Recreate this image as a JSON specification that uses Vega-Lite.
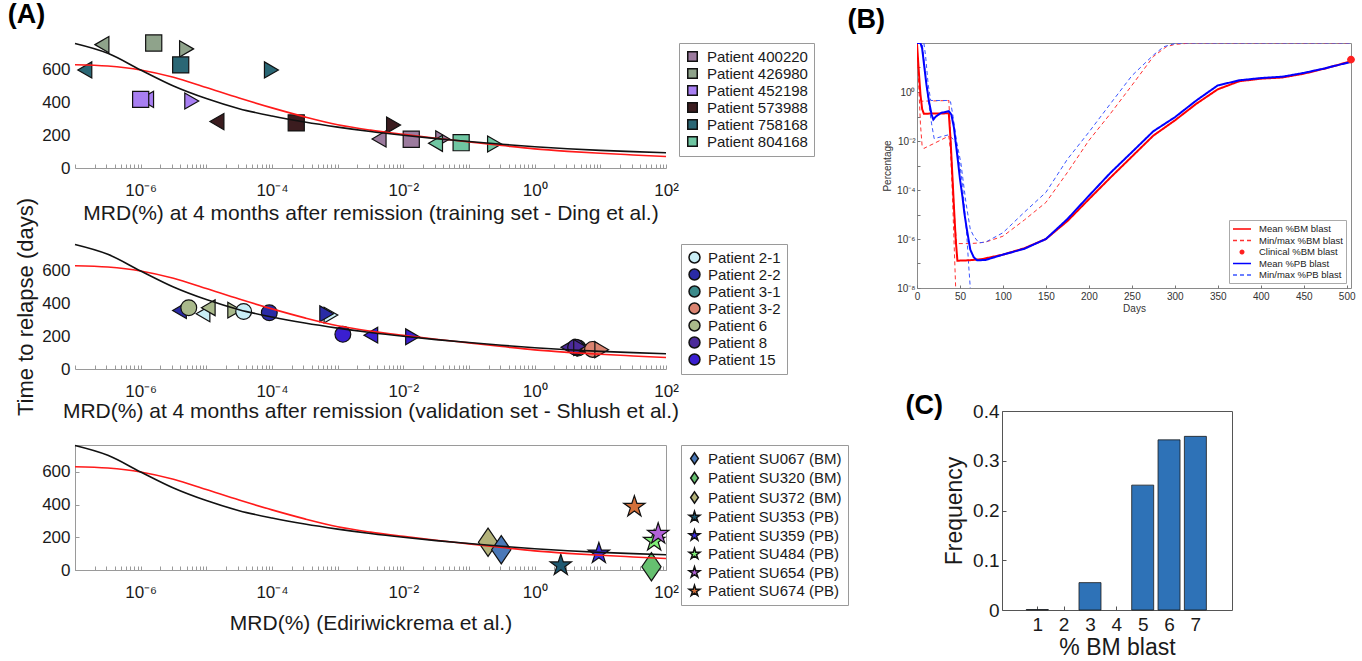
{
  "$schema": "https://vega.github.io/schema/vega-lite/v6.json",
  "background": "white",
  "padding": {"left": 7, "top": 0, "right": 4, "bottom": 2},
  "config": {
    "font": "Liberation Sans",
    "view": {"stroke": null},
    "axis": {"grid": false, "domainColor": "#9a9a9a", "tickColor": "#9a9a9a", "labelColor": "#1a1a1a", "titleColor": "#1a1a1a", "titleFontWeight": "normal", "labelFont": "Liberation Sans", "titleFont": "Liberation Sans"},
    "legend": {"labelFont": "Liberation Sans", "labelColor": "#1a1a1a"},
    "title": {"font": "Liberation Sans", "fontWeight": "bold", "fontSize": 27, "anchor": "start", "color": "#000", "offset": 4}
  },
  "datasets": {
    "curves": [
      {"mrd": 1e-7, "days": 632, "model": "red"}, {"mrd": 3.16e-7, "days": 624, "model": "red"}, {"mrd": 1e-6, "days": 600, "model": "red"}, {"mrd": 3.16e-6, "days": 555, "model": "red"}, {"mrd": 1e-5, "days": 492, "model": "red"}, {"mrd": 3.16e-5, "days": 428, "model": "red"}, {"mrd": 1e-4, "days": 368, "model": "red"}, {"mrd": 3.16e-4, "days": 313, "model": "red"}, {"mrd": 0.001, "days": 265, "model": "red"}, {"mrd": 0.00316, "days": 232, "model": "red"}, {"mrd": 0.01, "days": 206, "model": "red"}, {"mrd": 0.0316, "days": 182, "model": "red"}, {"mrd": 0.1, "days": 160, "model": "red"}, {"mrd": 0.316, "days": 138, "model": "red"}, {"mrd": 1, "days": 117, "model": "red"}, {"mrd": 3.16, "days": 102, "model": "red"}, {"mrd": 10, "days": 90, "model": "red"}, {"mrd": 31.6, "days": 80, "model": "red"}, {"mrd": 100, "days": 70, "model": "red"},
      {"mrd": 1e-7, "days": 762, "model": "black"}, {"mrd": 3.16e-7, "days": 702, "model": "black"}, {"mrd": 1e-6, "days": 600, "model": "black"}, {"mrd": 3.16e-6, "days": 502, "model": "black"}, {"mrd": 1e-5, "days": 425, "model": "black"}, {"mrd": 3.16e-5, "days": 363, "model": "black"}, {"mrd": 1e-4, "days": 318, "model": "black"}, {"mrd": 3.16e-4, "days": 281, "model": "black"}, {"mrd": 0.001, "days": 250, "model": "black"}, {"mrd": 0.00316, "days": 223, "model": "black"}, {"mrd": 0.01, "days": 200, "model": "black"}, {"mrd": 0.0316, "days": 180, "model": "black"}, {"mrd": 0.1, "days": 162, "model": "black"}, {"mrd": 0.316, "days": 145, "model": "black"}, {"mrd": 1, "days": 130, "model": "black"}, {"mrd": 3.16, "days": 118, "model": "black"}, {"mrd": 10, "days": 108, "model": "black"}, {"mrd": 31.6, "days": 100, "model": "black"}, {"mrd": 100, "days": 93, "model": "black"}
    ],
    "ding": [
      {"patient": "Patient 400220", "marker": "L", "mrd": 0.00427, "days": 178},
      {"patient": "Patient 400220", "marker": "S", "mrd": 0.0132, "days": 176},
      {"patient": "Patient 400220", "marker": "R", "mrd": 0.0398, "days": 178},
      {"patient": "Patient 426980", "marker": "L", "mrd": 2.57e-7, "days": 755},
      {"patient": "Patient 426980", "marker": "S", "mrd": 1.58e-6, "days": 765},
      {"patient": "Patient 426980", "marker": "R", "mrd": 5.0e-6, "days": 729},
      {"patient": "Patient 452198", "marker": "L", "mrd": 1.23e-6, "days": 420},
      {"patient": "Patient 452198", "marker": "S", "mrd": 1.0e-6, "days": 420},
      {"patient": "Patient 452198", "marker": "R", "mrd": 6.0e-6, "days": 410},
      {"patient": "Patient 573988", "marker": "L", "mrd": 1.45e-5, "days": 284},
      {"patient": "Patient 573988", "marker": "S", "mrd": 2.34e-4, "days": 276},
      {"patient": "Patient 573988", "marker": "R", "mrd": 0.0071, "days": 263},
      {"patient": "Patient 758168", "marker": "L", "mrd": 1.41e-7, "days": 600},
      {"patient": "Patient 758168", "marker": "S", "mrd": 4.07e-6, "days": 631},
      {"patient": "Patient 758168", "marker": "R", "mrd": 9.8e-5, "days": 600},
      {"patient": "Patient 804168", "marker": "L", "mrd": 0.0309, "days": 151},
      {"patient": "Patient 804168", "marker": "S", "mrd": 0.0759, "days": 155},
      {"patient": "Patient 804168", "marker": "R", "mrd": 0.245, "days": 147}
    ],
    "shlush": [
      {"patient": "Patient 2-1", "marker": "L", "mrd": 8.9e-6, "days": 338},
      {"patient": "Patient 2-1", "marker": "R", "mrd": 7.9e-4, "days": 330},
      {"patient": "Patient 2-2", "marker": "L", "mrd": 3.9e-6, "days": 358},
      {"patient": "Patient 2-2", "marker": "R", "mrd": 6.8e-4, "days": 338},
      {"patient": "Patient 6", "marker": "C", "mrd": 5.4e-6, "days": 375},
      {"patient": "Patient 6", "marker": "L", "mrd": 1.07e-5, "days": 375},
      {"patient": "Patient 6", "marker": "R", "mrd": 2.7e-5, "days": 360},
      {"patient": "Patient 2-1", "marker": "C", "mrd": 3.7e-5, "days": 352},
      {"patient": "Patient 2-2", "marker": "C", "mrd": 9.1e-5, "days": 344},
      {"patient": "Patient 15", "marker": "C", "mrd": 0.0012, "days": 212},
      {"patient": "Patient 15", "marker": "L", "mrd": 0.0032, "days": 207},
      {"patient": "Patient 15", "marker": "R", "mrd": 0.0138, "days": 197},
      {"patient": "Patient 3-1", "marker": "L", "mrd": 3.5, "days": 130},
      {"patient": "Patient 3-1", "marker": "C", "mrd": 4.6, "days": 128},
      {"patient": "Patient 3-1", "marker": "R", "mrd": 5.6, "days": 128},
      {"patient": "Patient 8", "marker": "L", "mrd": 3.2, "days": 133},
      {"patient": "Patient 8", "marker": "C", "mrd": 4.2, "days": 133},
      {"patient": "Patient 8", "marker": "R", "mrd": 5.0, "days": 132},
      {"patient": "Patient 3-2", "marker": "L", "mrd": 6.3, "days": 120},
      {"patient": "Patient 3-2", "marker": "C", "mrd": 7.6, "days": 120},
      {"patient": "Patient 3-2", "marker": "R", "mrd": 10.5, "days": 118}
    ],
    "ediri": [
      {"patient": "Patient SU320 (BM)", "type": "BM", "mrd": 60, "days": 20},
      {"patient": "Patient SU372 (BM)", "type": "BM", "mrd": 0.195, "days": 170},
      {"patient": "Patient SU067 (BM)", "type": "BM", "mrd": 0.31, "days": 124},
      {"patient": "Patient SU353 (PB)", "type": "PB", "mrd": 2.5, "days": 28},
      {"patient": "Patient SU359 (PB)", "type": "PB", "mrd": 9.5, "days": 101},
      {"patient": "Patient SU484 (PB)", "type": "PB", "mrd": 66, "days": 178},
      {"patient": "Patient SU654 (PB)", "type": "PB", "mrd": 76, "days": 221},
      {"patient": "Patient SU674 (PB)", "type": "PB", "mrd": 33, "days": 387}
    ],
    "sim": [
      {"day": 0, "value": 95, "series": "Mean %BM blast", "line": "mean"}, {"day": 2, "value": 8, "series": "Mean %BM blast", "line": "mean"}, {"day": 4, "value": 0.8, "series": "Mean %BM blast", "line": "mean"}, {"day": 6, "value": 0.2, "series": "Mean %BM blast", "line": "mean"}, {"day": 8, "value": 0.13, "series": "Mean %BM blast", "line": "mean"}, {"day": 37, "value": 0.135, "series": "Mean %BM blast", "line": "mean"}, {"day": 39, "value": 0.012, "series": "Mean %BM blast", "line": "mean"}, {"day": 41, "value": 0.0005, "series": "Mean %BM blast", "line": "mean"}, {"day": 43, "value": 2e-5, "series": "Mean %BM blast", "line": "mean"}, {"day": 45, "value": 1e-6, "series": "Mean %BM blast", "line": "mean"}, {"day": 47, "value": 1.3e-7, "series": "Mean %BM blast", "line": "mean"}, {"day": 60, "value": 1.35e-7, "series": "Mean %BM blast", "line": "mean"}, {"day": 75, "value": 1.5e-7, "series": "Mean %BM blast", "line": "mean"}, {"day": 100, "value": 2.3e-7, "series": "Mean %BM blast", "line": "mean"}, {"day": 125, "value": 4.2e-7, "series": "Mean %BM blast", "line": "mean"}, {"day": 150, "value": 1e-6, "series": "Mean %BM blast", "line": "mean"}, {"day": 175, "value": 5.4e-6, "series": "Mean %BM blast", "line": "mean"}, {"day": 200, "value": 4.2e-5, "series": "Mean %BM blast", "line": "mean"}, {"day": 225, "value": 0.00032, "series": "Mean %BM blast", "line": "mean"}, {"day": 250, "value": 0.0023, "series": "Mean %BM blast", "line": "mean"}, {"day": 275, "value": 0.0166, "series": "Mean %BM blast", "line": "mean"}, {"day": 300, "value": 0.069, "series": "Mean %BM blast", "line": "mean"}, {"day": 325, "value": 0.33, "series": "Mean %BM blast", "line": "mean"}, {"day": 350, "value": 1.29, "series": "Mean %BM blast", "line": "mean"}, {"day": 375, "value": 2.75, "series": "Mean %BM blast", "line": "mean"}, {"day": 400, "value": 3.5, "series": "Mean %BM blast", "line": "mean"}, {"day": 425, "value": 3.9, "series": "Mean %BM blast", "line": "mean"}, {"day": 450, "value": 5.6, "series": "Mean %BM blast", "line": "mean"}, {"day": 475, "value": 9.1, "series": "Mean %BM blast", "line": "mean"}, {"day": 505, "value": 18, "series": "Mean %BM blast", "line": "mean"},
      {"day": 0, "value": 100, "series": "Mean %PB blast", "line": "mean"}, {"day": 4, "value": 100, "series": "Mean %PB blast", "line": "mean"}, {"day": 6, "value": 60, "series": "Mean %PB blast", "line": "mean"}, {"day": 8, "value": 15, "series": "Mean %PB blast", "line": "mean"}, {"day": 11, "value": 2, "series": "Mean %PB blast", "line": "mean"}, {"day": 14, "value": 0.4, "series": "Mean %PB blast", "line": "mean"}, {"day": 17, "value": 0.12, "series": "Mean %PB blast", "line": "mean"}, {"day": 19, "value": 0.075, "series": "Mean %PB blast", "line": "mean"}, {"day": 22, "value": 0.1, "series": "Mean %PB blast", "line": "mean"}, {"day": 28, "value": 0.14, "series": "Mean %PB blast", "line": "mean"}, {"day": 37, "value": 0.165, "series": "Mean %PB blast", "line": "mean"}, {"day": 40, "value": 0.12, "series": "Mean %PB blast", "line": "mean"}, {"day": 43, "value": 0.035, "series": "Mean %PB blast", "line": "mean"}, {"day": 45, "value": 0.009, "series": "Mean %PB blast", "line": "mean"}, {"day": 48, "value": 0.0012, "series": "Mean %PB blast", "line": "mean"}, {"day": 50, "value": 0.00028, "series": "Mean %PB blast", "line": "mean"}, {"day": 53, "value": 5e-5, "series": "Mean %PB blast", "line": "mean"}, {"day": 55, "value": 1.2e-5, "series": "Mean %PB blast", "line": "mean"}, {"day": 58, "value": 2.5e-6, "series": "Mean %PB blast", "line": "mean"}, {"day": 62, "value": 3.7e-7, "series": "Mean %PB blast", "line": "mean"}, {"day": 66, "value": 1.8e-7, "series": "Mean %PB blast", "line": "mean"}, {"day": 70, "value": 1.35e-7, "series": "Mean %PB blast", "line": "mean"}, {"day": 80, "value": 1.4e-7, "series": "Mean %PB blast", "line": "mean"}, {"day": 100, "value": 2.3e-7, "series": "Mean %PB blast", "line": "mean"}, {"day": 125, "value": 4e-7, "series": "Mean %PB blast", "line": "mean"}, {"day": 150, "value": 1e-6, "series": "Mean %PB blast", "line": "mean"}, {"day": 175, "value": 6.5e-6, "series": "Mean %PB blast", "line": "mean"}, {"day": 200, "value": 5.8e-5, "series": "Mean %PB blast", "line": "mean"}, {"day": 225, "value": 0.0005, "series": "Mean %PB blast", "line": "mean"}, {"day": 250, "value": 0.0035, "series": "Mean %PB blast", "line": "mean"}, {"day": 275, "value": 0.025, "series": "Mean %PB blast", "line": "mean"}, {"day": 300, "value": 0.093, "series": "Mean %PB blast", "line": "mean"}, {"day": 325, "value": 0.45, "series": "Mean %PB blast", "line": "mean"}, {"day": 350, "value": 1.86, "series": "Mean %PB blast", "line": "mean"}, {"day": 375, "value": 3.0, "series": "Mean %PB blast", "line": "mean"}, {"day": 400, "value": 3.7, "series": "Mean %PB blast", "line": "mean"}, {"day": 425, "value": 4.2, "series": "Mean %PB blast", "line": "mean"}, {"day": 450, "value": 6.0, "series": "Mean %PB blast", "line": "mean"}, {"day": 475, "value": 9.3, "series": "Mean %PB blast", "line": "mean"}, {"day": 505, "value": 17, "series": "Mean %PB blast", "line": "mean"},
      {"day": 0, "value": 95, "series": "Min/max %BM blast", "line": "max"}, {"day": 2, "value": 5, "series": "Min/max %BM blast", "line": "max"}, {"day": 4, "value": 0.6, "series": "Min/max %BM blast", "line": "max"}, {"day": 5, "value": 0.42, "series": "Min/max %BM blast", "line": "max"}, {"day": 37, "value": 0.45, "series": "Min/max %BM blast", "line": "max"}, {"day": 38, "value": 0.1, "series": "Min/max %BM blast", "line": "max"}, {"day": 40, "value": 0.003, "series": "Min/max %BM blast", "line": "max"}, {"day": 42, "value": 0.0001, "series": "Min/max %BM blast", "line": "max"}, {"day": 44, "value": 5e-6, "series": "Min/max %BM blast", "line": "max"}, {"day": 46, "value": 6.5e-7, "series": "Min/max %BM blast", "line": "max"}, {"day": 60, "value": 6.5e-7, "series": "Min/max %BM blast", "line": "max"}, {"day": 70, "value": 6.8e-7, "series": "Min/max %BM blast", "line": "max"}, {"day": 80, "value": 7.5e-7, "series": "Min/max %BM blast", "line": "max"}, {"day": 100, "value": 1.3e-6, "series": "Min/max %BM blast", "line": "max"}, {"day": 125, "value": 6e-6, "series": "Min/max %BM blast", "line": "max"}, {"day": 150, "value": 3.1e-5, "series": "Min/max %BM blast", "line": "max"}, {"day": 175, "value": 0.00052, "series": "Min/max %BM blast", "line": "max"}, {"day": 200, "value": 0.0105, "series": "Min/max %BM blast", "line": "max"}, {"day": 225, "value": 0.13, "series": "Min/max %BM blast", "line": "max"}, {"day": 250, "value": 1.86, "series": "Min/max %BM blast", "line": "max"}, {"day": 275, "value": 28, "series": "Min/max %BM blast", "line": "max"}, {"day": 290, "value": 70, "series": "Min/max %BM blast", "line": "max"}, {"day": 300, "value": 88, "series": "Min/max %BM blast", "line": "max"}, {"day": 320, "value": 100, "series": "Min/max %BM blast", "line": "max"}, {"day": 505, "value": 100, "series": "Min/max %BM blast", "line": "max"},
      {"day": 0, "value": 95, "series": "Min/max %BM blast", "line": "min"}, {"day": 2, "value": 2, "series": "Min/max %BM blast", "line": "min"}, {"day": 4, "value": 0.05, "series": "Min/max %BM blast", "line": "min"}, {"day": 6, "value": 0.006, "series": "Min/max %BM blast", "line": "min"}, {"day": 8, "value": 0.005, "series": "Min/max %BM blast", "line": "min"}, {"day": 20, "value": 0.008, "series": "Min/max %BM blast", "line": "min"}, {"day": 37, "value": 0.016, "series": "Min/max %BM blast", "line": "min"}, {"day": 39, "value": 0.004, "series": "Min/max %BM blast", "line": "min"}, {"day": 41, "value": 0.0001, "series": "Min/max %BM blast", "line": "min"}, {"day": 43, "value": 1e-6, "series": "Min/max %BM blast", "line": "min"}, {"day": 45, "value": 1e-8, "series": "Min/max %BM blast", "line": "min"}, {"day": 46, "value": 1e-10, "series": "Min/max %BM blast", "line": "min"},
      {"day": 0, "value": 100, "series": "Min/max %PB blast", "line": "max"}, {"day": 8, "value": 100, "series": "Min/max %PB blast", "line": "max"}, {"day": 10, "value": 30, "series": "Min/max %PB blast", "line": "max"}, {"day": 13, "value": 2, "series": "Min/max %PB blast", "line": "max"}, {"day": 16, "value": 0.45, "series": "Min/max %PB blast", "line": "max"}, {"day": 37, "value": 0.45, "series": "Min/max %PB blast", "line": "max"}, {"day": 39, "value": 0.4, "series": "Min/max %PB blast", "line": "max"}, {"day": 42, "value": 0.1, "series": "Min/max %PB blast", "line": "max"}, {"day": 46, "value": 0.01, "series": "Min/max %PB blast", "line": "max"}, {"day": 51, "value": 0.0013, "series": "Min/max %PB blast", "line": "max"}, {"day": 57, "value": 3e-5, "series": "Min/max %PB blast", "line": "max"}, {"day": 62, "value": 2.5e-6, "series": "Min/max %PB blast", "line": "max"}, {"day": 66, "value": 1.3e-6, "series": "Min/max %PB blast", "line": "max"}, {"day": 72, "value": 7e-7, "series": "Min/max %PB blast", "line": "max"}, {"day": 80, "value": 7.5e-7, "series": "Min/max %PB blast", "line": "max"}, {"day": 100, "value": 1.8e-6, "series": "Min/max %PB blast", "line": "max"}, {"day": 125, "value": 1.25e-5, "series": "Min/max %PB blast", "line": "max"}, {"day": 150, "value": 8e-5, "series": "Min/max %PB blast", "line": "max"}, {"day": 175, "value": 0.0018, "series": "Min/max %PB blast", "line": "max"}, {"day": 200, "value": 0.023, "series": "Min/max %PB blast", "line": "max"}, {"day": 225, "value": 0.33, "series": "Min/max %PB blast", "line": "max"}, {"day": 250, "value": 4.6, "series": "Min/max %PB blast", "line": "max"}, {"day": 275, "value": 32, "series": "Min/max %PB blast", "line": "max"}, {"day": 287, "value": 70, "series": "Min/max %PB blast", "line": "max"}, {"day": 300, "value": 95, "series": "Min/max %PB blast", "line": "max"}, {"day": 310, "value": 100, "series": "Min/max %PB blast", "line": "max"}, {"day": 505, "value": 100, "series": "Min/max %PB blast", "line": "max"},
      {"day": 0, "value": 100, "series": "Min/max %PB blast", "line": "min"}, {"day": 6, "value": 100, "series": "Min/max %PB blast", "line": "min"}, {"day": 9, "value": 10, "series": "Min/max %PB blast", "line": "min"}, {"day": 13, "value": 0.5, "series": "Min/max %PB blast", "line": "min"}, {"day": 17, "value": 0.05, "series": "Min/max %PB blast", "line": "min"}, {"day": 20, "value": 0.0125, "series": "Min/max %PB blast", "line": "min"}, {"day": 37, "value": 0.018, "series": "Min/max %PB blast", "line": "min"}, {"day": 40, "value": 0.014, "series": "Min/max %PB blast", "line": "min"}, {"day": 45, "value": 0.009, "series": "Min/max %PB blast", "line": "min"}, {"day": 50, "value": 0.001, "series": "Min/max %PB blast", "line": "min"}, {"day": 53, "value": 0.00015, "series": "Min/max %PB blast", "line": "min"}, {"day": 56, "value": 1e-5, "series": "Min/max %PB blast", "line": "min"}, {"day": 58, "value": 1.3e-6, "series": "Min/max %PB blast", "line": "min"}, {"day": 60, "value": 1e-7, "series": "Min/max %PB blast", "line": "min"}, {"day": 62, "value": 1e-8, "series": "Min/max %PB blast", "line": "min"}, {"day": 63, "value": 1e-10, "series": "Min/max %PB blast", "line": "min"}
    ],
    "clin": [{"day": 505, "value": 21, "series": "Clinical %BM blast"}],
    "hist": [
      {"blast": 1, "freq": 0.001}, {"blast": 2, "freq": 0}, {"blast": 3, "freq": 0.055}, {"blast": 4, "freq": 0}, {"blast": 5, "freq": 0.251}, {"blast": 6, "freq": 0.342}, {"blast": 7, "freq": 0.349}
    ]
  },
  "resolve": {
    "scale": {"color": "independent", "shape": "independent", "fill": "independent", "stroke": "independent", "strokeDash": "independent"},
    "legend": {"color": "independent", "shape": "independent", "fill": "independent", "stroke": "independent", "strokeDash": "independent"}
  },
  "bounds": "flush",
  "spacing": 842,
  "hconcat": [
    {
      "title": {"text": "(A)", "dx": -7},
      "bounds": "flush",
      "spacing": 76,
      "resolve": {
        "scale": {"color": "independent", "shape": "independent"},
        "legend": {"color": "independent", "shape": "independent"}
      },
      "vconcat": [
        {
          "width": 591, "height": 125,
          "layer": [
            {
              "data": {"name": "ding"},
              "mark": {"type": "point", "filled": true, "opacity": 1, "stroke": "#111", "strokeWidth": 1.2, "size": 260},
              "encoding": {
                "x": {"field": "mrd", "type": "quantitative", "scale": {"type": "log", "domain": [1e-7, 100], "nice": false},
                  "axis": {"title": "MRD(%) at 4 months after remission (training set - Ding et al.)", "values": [1e-7,2e-7,3e-7,4e-7,5e-7,6e-7,7e-7,8e-7,9e-7,1e-6,2e-6,3e-6,4e-6,5e-6,6e-6,7e-6,8e-6,9e-6,1e-5,2e-5,3e-5,4e-5,5e-5,6e-5,7e-5,8e-5,9e-5,1e-4,2e-4,3e-4,4e-4,5e-4,6e-4,7e-4,8e-4,9e-4,0.001,0.002,0.003,0.004,0.005,0.006,0.007,0.008,0.009,0.01,0.02,0.03,0.04,0.05,0.06,0.07,0.08,0.09,0.1,0.2,0.3,0.4,0.5,0.6,0.7,0.8,0.9,1,2,3,4,5,6,7,8,9,10,20,30,40,50,60,70,80,90,100],
                    "labelExpr": "datum.value==0.000001?'10⁻⁶':datum.value==0.0001?'10⁻⁴':datum.value==0.01?'10⁻²':datum.value==1?'10⁰':datum.value==100?'10²':''",
                    "labelOverlap": false, "labelFlush": false, "labelBound": false, "tickSize": -4, "labelPadding": 18, "labelFontSize": 17, "titleFontSize": 21, "titlePadding": 4}},
                "y": {"field": "days", "type": "quantitative", "scale": {"domain": [0, 765], "nice": false},
                  "axis": {"title": null, "values": [0, 200, 400, 600], "domain": false, "ticks": false, "labelFontSize": 17, "labelPadding": 5}},
                "color": {"field": "patient", "type": "nominal",
                  "scale": {"domain": ["Patient 400220", "Patient 426980", "Patient 452198", "Patient 573988", "Patient 758168", "Patient 804168"], "range": ["#9c7b9e", "#8fa38b", "#a87ff2", "#3b1c1f", "#2a6775", "#6fc6a2"]},
                  "legend": {"title": null, "orient": "right", "offset": 13, "symbolType": "square", "symbolSize": 90, "labelFontSize": 15, "padding": 6, "rowPadding": 0, "strokeColor": "#9a9a9a", "fillColor": "white", "labelOffset": 7}},
                "shape": {"field": "marker", "type": "nominal", "scale": {"domain": ["L", "S", "R"], "range": ["triangle-left", "square", "triangle-right"]}, "legend": null}
              }
            },
            {
              "data": {"name": "curves"},
              "transform": [{"filter": "datum.model == 'red'"}],
              "mark": {"type": "line", "color": "#ff1a1a", "strokeWidth": 1.6, "interpolate": "monotone"},
              "encoding": {"x": {"field": "mrd", "type": "quantitative"}, "y": {"field": "days", "type": "quantitative"}}
            },
            {
              "data": {"name": "curves"},
              "transform": [{"filter": "datum.model == 'black'"}],
              "mark": {"type": "line", "color": "#111111", "strokeWidth": 1.6, "interpolate": "monotone"},
              "encoding": {"x": {"field": "mrd", "type": "quantitative"}, "y": {"field": "days", "type": "quantitative"}}
            }
          ]
        },
        {
          "width": 591, "height": 125,
          "layer": [
            {
              "data": {"name": "shlush"},
              "mark": {"type": "point", "filled": true, "opacity": 1, "stroke": "#111", "strokeWidth": 1.2, "size": 250},
              "encoding": {
                "x": {"field": "mrd", "type": "quantitative", "scale": {"type": "log", "domain": [1e-7, 100], "nice": false},
                  "axis": {"title": "MRD(%) at 4 months after remission (validation set - Shlush et al.)", "values": [1e-7,2e-7,3e-7,4e-7,5e-7,6e-7,7e-7,8e-7,9e-7,1e-6,2e-6,3e-6,4e-6,5e-6,6e-6,7e-6,8e-6,9e-6,1e-5,2e-5,3e-5,4e-5,5e-5,6e-5,7e-5,8e-5,9e-5,1e-4,2e-4,3e-4,4e-4,5e-4,6e-4,7e-4,8e-4,9e-4,0.001,0.002,0.003,0.004,0.005,0.006,0.007,0.008,0.009,0.01,0.02,0.03,0.04,0.05,0.06,0.07,0.08,0.09,0.1,0.2,0.3,0.4,0.5,0.6,0.7,0.8,0.9,1,2,3,4,5,6,7,8,9,10,20,30,40,50,60,70,80,90,100],
                    "labelExpr": "datum.value==0.000001?'10⁻⁶':datum.value==0.0001?'10⁻⁴':datum.value==0.01?'10⁻²':datum.value==1?'10⁰':datum.value==100?'10²':''",
                    "labelOverlap": false, "labelFlush": false, "labelBound": false, "tickSize": -4, "labelPadding": 18, "labelFontSize": 17, "titleFontSize": 21, "titlePadding": 1}},
                "y": {"field": "days", "type": "quantitative", "scale": {"domain": [0, 765], "nice": false},
                  "axis": {"title": "Time to relapse (days)", "titleFontSize": 22, "titlePadding": 4, "values": [0, 200, 400, 600], "domain": false, "ticks": false, "labelFontSize": 17, "labelPadding": 5}},
                "color": {"field": "patient", "type": "nominal",
                  "scale": {"domain": ["Patient 2-1", "Patient 2-2", "Patient 3-1", "Patient 3-2", "Patient 6", "Patient 8", "Patient 15"], "range": ["#c9eef6", "#2a2ba6", "#3b8a8a", "#da8370", "#a9b98b", "#4b2a99", "#3a1fd0"]},
                  "legend": {"title": null, "orient": "right", "offset": 15, "symbolType": "circle", "symbolSize": 120, "labelFontSize": 15, "padding": 6, "rowPadding": 0, "strokeColor": "#9a9a9a", "fillColor": "white", "labelOffset": 6}},
                "shape": {"field": "marker", "type": "nominal", "scale": {"domain": ["L", "C", "R"], "range": ["triangle-left", "circle", "triangle-right"]}, "legend": null}
              }
            },
            {
              "data": {"name": "curves"},
              "transform": [{"filter": "datum.model == 'red'"}],
              "mark": {"type": "line", "color": "#ff1a1a", "strokeWidth": 1.6, "interpolate": "monotone"},
              "encoding": {"x": {"field": "mrd", "type": "quantitative"}, "y": {"field": "days", "type": "quantitative"}}
            },
            {
              "data": {"name": "curves"},
              "transform": [{"filter": "datum.model == 'black'"}],
              "mark": {"type": "line", "color": "#111111", "strokeWidth": 1.6, "interpolate": "monotone"},
              "encoding": {"x": {"field": "mrd", "type": "quantitative"}, "y": {"field": "days", "type": "quantitative"}}
            }
          ]
        },
        {
          "width": 591, "height": 125,
          "view": {"stroke": "#9a9a9a"},
          "layer": [
            {
              "data": {"name": "ediri"},
              "transform": [{"filter": "datum.type == 'BM'"}],
              "mark": {"type": "point", "filled": true, "opacity": 1, "stroke": "#111", "strokeWidth": 1.2, "size": 800},
              "encoding": {
                "x": {"field": "mrd", "type": "quantitative", "scale": {"type": "log", "domain": [1e-7, 100], "nice": false},
                  "axis": {"title": "MRD(%) (Ediriwickrema et al.)", "values": [1e-7,2e-7,3e-7,4e-7,5e-7,6e-7,7e-7,8e-7,9e-7,1e-6,2e-6,3e-6,4e-6,5e-6,6e-6,7e-6,8e-6,9e-6,1e-5,2e-5,3e-5,4e-5,5e-5,6e-5,7e-5,8e-5,9e-5,1e-4,2e-4,3e-4,4e-4,5e-4,6e-4,7e-4,8e-4,9e-4,0.001,0.002,0.003,0.004,0.005,0.006,0.007,0.008,0.009,0.01,0.02,0.03,0.04,0.05,0.06,0.07,0.08,0.09,0.1,0.2,0.3,0.4,0.5,0.6,0.7,0.8,0.9,1,2,3,4,5,6,7,8,9,10,20,30,40,50,60,70,80,90,100],
                    "labelExpr": "datum.value==0.000001?'10⁻⁶':datum.value==0.0001?'10⁻⁴':datum.value==0.01?'10⁻²':datum.value==1?'10⁰':datum.value==100?'10²':''",
                    "labelOverlap": false, "labelFlush": false, "labelBound": false, "tickSize": -4, "labelPadding": 18, "labelFontSize": 17, "titleFontSize": 21, "titlePadding": 12}},
                "y": {"field": "days", "type": "quantitative", "scale": {"domain": [0, 765], "nice": false},
                  "axis": {"title": null, "values": [0, 200, 400, 600], "domain": false, "tickSize": -4, "labelFontSize": 17, "labelPadding": 9}},
                "color": {"field": "patient", "type": "nominal",
                  "scale": {"domain": ["Patient SU067 (BM)", "Patient SU320 (BM)", "Patient SU372 (BM)", "Patient SU353 (PB)", "Patient SU359 (PB)", "Patient SU484 (PB)", "Patient SU654 (PB)", "Patient SU674 (PB)"], "range": ["#4a78b8", "#66c070", "#b3b27a", "#1e5870", "#3b2ee0", "#80f078", "#b262d8", "#d4703a"]},
                  "legend": {"title": null, "orient": "right", "offset": 15, "symbolSize": 130, "labelFontSize": 15, "padding": 6, "rowPadding": 0.5, "strokeColor": "#9a9a9a", "fillColor": "white", "labelOffset": 6}},
                "shape": {"field": "patient", "type": "nominal",
                  "scale": {"domain": ["Patient SU067 (BM)", "Patient SU320 (BM)", "Patient SU372 (BM)", "Patient SU353 (PB)", "Patient SU359 (PB)", "Patient SU484 (PB)", "Patient SU654 (PB)", "Patient SU674 (PB)"], "range": ["M0,-1L0.68,0L0,1L-0.68,0Z", "M0,-1L0.68,0L0,1L-0.68,0Z", "M0,-1L0.68,0L0,1L-0.68,0Z", "M0,-1L0.2245,-0.309L0.951,-0.309L0.363,0.118L0.588,0.809L0,0.382L-0.588,0.809L-0.363,0.118L-0.951,-0.309L-0.2245,-0.309Z", "M0,-1L0.2245,-0.309L0.951,-0.309L0.363,0.118L0.588,0.809L0,0.382L-0.588,0.809L-0.363,0.118L-0.951,-0.309L-0.2245,-0.309Z", "M0,-1L0.2245,-0.309L0.951,-0.309L0.363,0.118L0.588,0.809L0,0.382L-0.588,0.809L-0.363,0.118L-0.951,-0.309L-0.2245,-0.309Z", "M0,-1L0.2245,-0.309L0.951,-0.309L0.363,0.118L0.588,0.809L0,0.382L-0.588,0.809L-0.363,0.118L-0.951,-0.309L-0.2245,-0.309Z", "M0,-1L0.2245,-0.309L0.951,-0.309L0.363,0.118L0.588,0.809L0,0.382L-0.588,0.809L-0.363,0.118L-0.951,-0.309L-0.2245,-0.309Z"]},
                  "legend": {"title": null, "orient": "right", "offset": 15, "symbolSize": 130, "labelFontSize": 15, "padding": 6, "rowPadding": 0.5, "strokeColor": "#9a9a9a", "fillColor": "white", "labelOffset": 6}}
              }
            },
            {
              "data": {"name": "ediri"},
              "transform": [{"filter": "datum.type == 'PB'"}],
              "mark": {"type": "point", "filled": true, "opacity": 1, "stroke": "#111", "strokeWidth": 1.2, "size": 500},
              "encoding": {
                "x": {"field": "mrd", "type": "quantitative"},
                "y": {"field": "days", "type": "quantitative"},
                "color": {"field": "patient", "type": "nominal"},
                "shape": {"field": "patient", "type": "nominal"}
              }
            },
            {
              "data": {"name": "curves"},
              "transform": [{"filter": "datum.model == 'red'"}],
              "mark": {"type": "line", "color": "#ff1a1a", "strokeWidth": 1.6, "interpolate": "monotone"},
              "encoding": {"x": {"field": "mrd", "type": "quantitative"}, "y": {"field": "days", "type": "quantitative"}}
            },
            {
              "data": {"name": "curves"},
              "transform": [{"filter": "datum.model == 'black'"}],
              "mark": {"type": "line", "color": "#111111", "strokeWidth": 1.6, "interpolate": "monotone"},
              "encoding": {"x": {"field": "mrd", "type": "quantitative"}, "y": {"field": "days", "type": "quantitative"}}
            }
          ]
        }
      ]
    },
    {
      "bounds": "flush",
      "spacing": 123,
      "resolve": {
        "scale": {"fill": "independent", "shape": "independent", "stroke": "independent", "strokeDash": "independent"},
        "legend": {"fill": "independent", "shape": "independent", "stroke": "independent", "strokeDash": "independent"}
      },
      "vconcat": [
        {
          "title": {"text": "(B)", "dx": -35},
          "width": 434, "height": 245,
          "view": {"stroke": "#8a8a8a"},
          "layer": [
            {
              "data": {"name": "sim"},
              "transform": [{"filter": "datum.line != 'mean'"}],
              "mark": {"type": "line", "strokeWidth": 1, "clip": true},
              "encoding": {
                "x": {"field": "day", "type": "quantitative", "scale": {"domain": [0, 505], "nice": false},
                  "axis": {"title": "Days", "values": [0, 50, 100, 150, 200, 250, 300, 350, 400, 450, 500], "domain": false, "tickSize": -3, "tickColor": "#777", "labelPadding": 6, "labelFontSize": 10, "titleFontSize": 10, "titlePadding": 2, "labelFlush": false, "labelColor": "#333", "titleColor": "#333"}},
                "y": {"field": "value", "type": "quantitative", "scale": {"type": "log", "domain": [1e-8, 100], "nice": false},
                  "axis": {"title": "Percentage", "values": [1e-8, 1e-7, 1e-6, 1e-5, 1e-4, 0.001, 0.01, 0.1, 1, 10, 100], "labelExpr": "datum.value==0.00000001?'10⁻⁸':datum.value==0.000001?'10⁻⁶':datum.value==0.0001?'10⁻⁴':datum.value==0.01?'10⁻²':datum.value==1?'10⁰':''", "domain": false, "tickSize": -3, "tickColor": "#777", "labelPadding": 5, "labelFontSize": 10, "titleFontSize": 10, "titlePadding": 4, "labelOverlap": false, "labelFlush": false, "labelColor": "#333", "titleColor": "#333"}},
                "detail": {"field": "line"},
                "stroke": {"field": "series", "type": "nominal",
                  "scale": {"domain": ["Mean %BM blast", "Min/max %BM blast", "Clinical %BM blast", "Mean %PB blast", "Min/max %PB blast"], "range": ["#ff0000", "#ff3030", "#ff2020", "#0000ff", "#3a55ff"]},
                  "legend": {"title": null, "orient": "bottom-right", "offset": 5, "padding": 3, "strokeColor": "#aaaaaa", "fillColor": "white", "labelFontSize": 9.5, "rowPadding": 0.5, "symbolSize": 100, "symbolStrokeWidth": 1.5, "symbolOffset": 4, "labelOffset": 11, "labelColor": "#222"}},
                "strokeDash": {"field": "series", "type": "nominal",
                  "scale": {"domain": ["Mean %BM blast", "Min/max %BM blast", "Clinical %BM blast", "Mean %PB blast", "Min/max %PB blast"], "range": [[1, 0], [4, 3], [1, 0], [1, 0], [4, 3]]},
                  "legend": {"title": null, "orient": "bottom-right", "offset": 5, "padding": 3, "strokeColor": "#aaaaaa", "fillColor": "white", "labelFontSize": 9.5, "rowPadding": 0.5, "symbolSize": 100, "symbolStrokeWidth": 1.5, "symbolOffset": 4, "labelOffset": 11, "labelColor": "#222"}}
              }
            },
            {
              "data": {"name": "sim"},
              "transform": [{"filter": "datum.line == 'mean'"}],
              "mark": {"type": "line", "strokeWidth": 2, "clip": true},
              "encoding": {
                "x": {"field": "day", "type": "quantitative"},
                "y": {"field": "value", "type": "quantitative"},
                "detail": {"field": "line"},
                "stroke": {"field": "series", "type": "nominal"},
                "strokeDash": {"field": "series", "type": "nominal"}
              }
            },
            {
              "data": {"name": "clin"},
              "mark": {"type": "point", "filled": true, "opacity": 1, "size": 500, "clip": false},
              "encoding": {
                "x": {"field": "day", "type": "quantitative"},
                "y": {"field": "value", "type": "quantitative"},
                "fill": {"field": "series", "type": "nominal",
                  "scale": {"domain": ["Mean %BM blast", "Min/max %BM blast", "Clinical %BM blast", "Mean %PB blast", "Min/max %PB blast"], "range": ["transparent", "transparent", "#ff2020", "transparent", "transparent"]},
                  "legend": {"title": null, "orient": "bottom-right", "offset": 5, "padding": 3, "strokeColor": "#aaaaaa", "fillColor": "white", "labelFontSize": 9.5, "rowPadding": 0.5, "symbolSize": 100, "symbolStrokeWidth": 1.5, "symbolOffset": 4, "labelOffset": 11, "labelColor": "#222"}},
                "shape": {"field": "series", "type": "nominal",
                  "scale": {"domain": ["Mean %BM blast", "Min/max %BM blast", "Clinical %BM blast", "Mean %PB blast", "Min/max %PB blast"], "range": ["M-1.8,0L1.8,0", "M-1.8,0L1.8,0", "M-0.35,0A0.35,0.35 0 1,0 0.35,0A0.35,0.35 0 1,0 -0.35,0Z", "M-1.8,0L1.8,0", "M-1.8,0L1.8,0"]},
                  "legend": {"title": null, "orient": "bottom-right", "offset": 5, "padding": 3, "strokeColor": "#aaaaaa", "fillColor": "white", "labelFontSize": 9.5, "rowPadding": 0.5, "symbolSize": 100, "symbolStrokeWidth": 1.5, "symbolOffset": 4, "labelOffset": 11, "labelColor": "#222"}}
              }
            }
          ]
        },
        {
          "bounds": "flush",
          "spacing": 84,
          "hconcat": [
            {"width": 1, "height": 1, "data": {"values": []}, "mark": "point"},
            {
              "title": {"text": "(C)", "dx": -38, "dy": 22},
              "width": 230, "height": 199,
              "view": {"stroke": "#555555"},
              "data": {"name": "hist"},
              "mark": {"type": "bar", "size": 22, "color": "#2e72b7", "stroke": "#1a1a1a", "strokeWidth": 0.8},
              "encoding": {
                "x": {"field": "blast", "type": "quantitative", "scale": {"domain": [-0.15, 8.2], "nice": false, "zero": false},
                  "axis": {"title": "% BM blast", "values": [1, 2, 3, 4, 5, 6, 7], "domain": false, "tickSize": -4, "tickColor": "#555", "labelPadding": 9, "labelFontSize": 19, "titleFontSize": 23, "titlePadding": 2, "labelFlush": false}},
                "y": {"field": "freq", "type": "quantitative", "scale": {"domain": [0, 0.4], "nice": false},
                  "axis": {"title": "Frequency", "values": [0, 0.1, 0.2, 0.3, 0.4], "format": "~g", "domain": false, "tickSize": -4, "tickColor": "#555", "labelPadding": 7, "labelFontSize": 19, "titleFontSize": 23, "titlePadding": 6}},
                "strokeOpacity": {"condition": {"test": "datum.freq == 0", "value": 0}, "value": 1}
              }
            }
          ]
        }
      ]
    }
  ]
}
